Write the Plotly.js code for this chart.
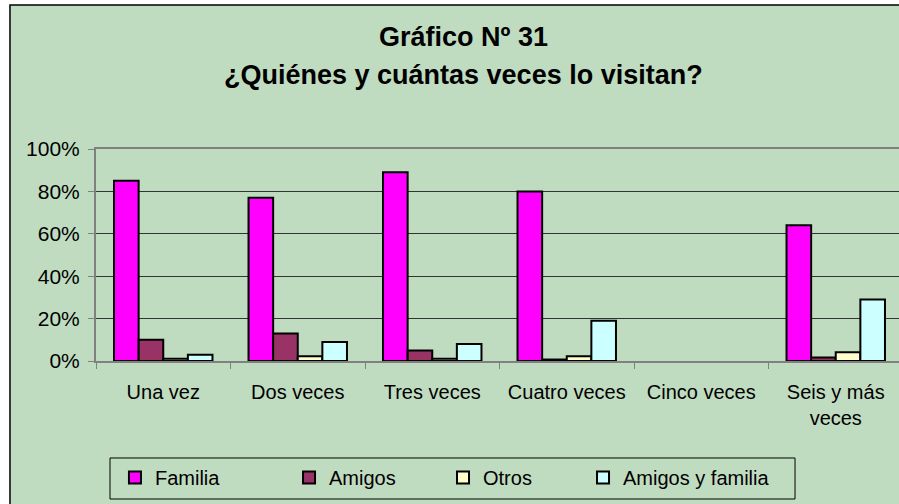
<!DOCTYPE html>
<html>
<head>
<meta charset="utf-8">
<script src="https://cdn.plot.ly/plotly-3.0.1.min.js"></script>
<style>
html,body{margin:0;padding:0;overflow:hidden;background:#fff;}
#chart{width:905px;height:504px;}
</style>
</head>
<body>
<div id="chart"></div>
<script>
const categories = ["Una vez", "Dos veces", "Tres veces", "Cuatro veces", "Cinco veces", "Seis y más<br>veces"];
const familia        = [85, 77, 89, 80, 0, 64];
const amigos         = [10, 13, 5, 0.7, 0, 1.7];
const otros          = [1.1, 2.2, 1.1, 2.2, 0, 4.1];
const amigosYFamilia = [3, 9, 8, 19, 0, 29];
const seriesNames = ["Familia", "Amigos", "Otros", "Amigos y familia"];
const yTickVals  = [0, 20, 40, 60, 80, 100];
const yTickText  = ["0%", "20%", "40%", "60%", "80%", "100%"];
const titleLine1 = "Gráfico Nº 31";
const titleLine2 = "¿Quiénes y cuántas veces lo visitan?";

const FONT = "Arial, 'Liberation Sans', sans-serif";
const BG = "#C0DCC0";

function barTrace(name, values, color, legendId) {
  return {
    type: "bar",
    name: name,
    legend: legendId,
    x: categories,
    y: values,
    marker: {
      color: color,
      line: {color: "#000000", width: values.map(v => (v === 0 ? 0 : 2))}
    },
    hoverinfo: "skip"
  };
}

const data = [
  barTrace(seriesNames[0], familia, "#FF00FF", "legend"),
  barTrace(seriesNames[1], amigos, "#993366", "legend2"),
  barTrace(seriesNames[2], otros, "#FFFFCC", "legend3"),
  barTrace(seriesNames[3], amigosYFamilia, "#CCFFFF", "legend4")
];

function legendAt(x) {
  return {
    orientation: "h",
    x: x, xanchor: "left",
    y: -0.4575, yanchor: "top",
    bgcolor: "rgba(0,0,0,0)",
    borderwidth: 0,
    font: {family: FONT, size: 20, color: "#000000"}
  };
}

const layout = {
  width: 905,
  height: 504,
  margin: {l: 96, r: 2, t: 149, b: 143, pad: 0},
  paper_bgcolor: "#FFFFFF",
  plot_bgcolor: BG,
  font: {family: FONT, size: 20, color: "#000000"},
  barmode: "group",
  bargap: 0.268,
  bargroupgap: 0,
  showlegend: true,
  legend: legendAt(0.0235),
  legend2: legendAt(0.2392),
  legend3: legendAt(0.4300),
  legend4: legendAt(0.6035),
  xaxis: {
    type: "category",
    tickson: "boundaries",
    ticks: "outside",
    ticklen: 6,
    tickcolor: "#808080",
    tickwidth: 1,
    ticklabelstandoff: 12,
    showline: true,
    linecolor: "#808080",
    linewidth: 2,
    mirror: true,
    showgrid: false,
    zeroline: false,
    tickfont: {family: FONT, size: 20, color: "#000000"},
    fixedrange: true
  },
  yaxis: {
    range: [0, 100],
    tickmode: "array",
    tickvals: yTickVals,
    ticktext: yTickText,
    ticks: "outside",
    ticklen: 6,
    tickcolor: "#808080",
    tickwidth: 1,
    ticklabelstandoff: 4,
    showline: true,
    linecolor: "#808080",
    linewidth: 2,
    mirror: true,
    showgrid: true,
    gridcolor: "#333333",
    gridwidth: 1,
    zeroline: false,
    tickfont: {family: FONT, size: 21, color: "#000000"},
    fixedrange: true
  },
  shapes: [
    {
      type: "rect", xref: "paper", yref: "paper", layer: "below",
      x0: -0.1066, x1: 1.02, y0: -0.8, y1: 1.679,
      fillcolor: BG,
      line: {color: "#000000", width: 1.5}
    },
    {
      type: "rect", xref: "paper", yref: "paper", layer: "above",
      x0: 0.01735, x1: 0.8662, y0: -0.651, y1: -0.4575,
      fillcolor: "rgba(0,0,0,0)",
      line: {color: "#000000", width: 1}
    }
  ],
  annotations: [
    {text: "<b>" + titleLine1 + "</b>", xref: "paper", yref: "paper", x: 0.4548, y: 1.528,
     xanchor: "center", yanchor: "middle", showarrow: false,
     font: {family: FONT, size: 27, color: "#000000"}},
    {text: "<b>" + titleLine2 + "</b>", xref: "paper", yref: "paper", x: 0.4548, y: 1.349,
     xanchor: "center", yanchor: "middle", showarrow: false,
     font: {family: FONT, size: 27, color: "#000000"}}
  ]
};

Plotly.newPlot("chart", data, layout, {displayModeBar: false, staticPlot: true});
</script>
</body>
</html>
